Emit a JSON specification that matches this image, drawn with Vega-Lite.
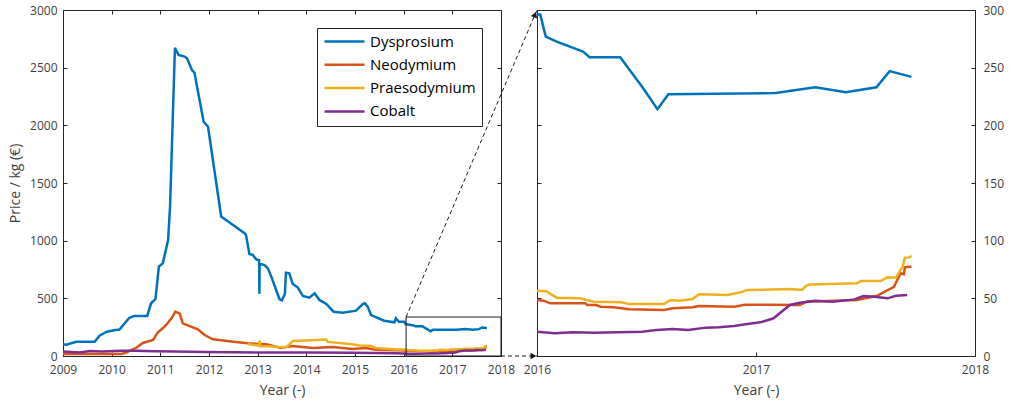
{
  "$schema": "https://vega.github.io/schema/vega-lite/v6.json",
  "padding": {"left": 8, "top": 4, "right": 2, "bottom": 2},
  "background": "white",
  "config": {
    "font": "Open Sans",
    "view": {"stroke": null},
    "axis": {
      "grid": false,
      "domainColor": "#262626",
      "domainWidth": 1,
      "tickColor": "#262626",
      "tickSize": -4,
      "tickWidth": 1,
      "labelFont": "Open Sans",
      "labelFontSize": 12,
      "labelColor": "#404040",
      "labelFlush": false,
      "labelOverlap": false,
      "titleFont": "Open Sans",
      "titleFontSize": 14,
      "titleFontWeight": "normal",
      "titleColor": "#404040"
    }
  },
  "datasets": {
    "prices": [
      {"m": "Dysprosium", "t": 2009.0, "p": 101},
      {"m": "Dysprosium", "t": 2009.07, "p": 97},
      {"m": "Dysprosium", "t": 2009.27, "p": 124},
      {"m": "Dysprosium", "t": 2009.65, "p": 124},
      {"m": "Dysprosium", "t": 2009.75, "p": 176},
      {"m": "Dysprosium", "t": 2009.9, "p": 211},
      {"m": "Dysprosium", "t": 2010.08, "p": 225},
      {"m": "Dysprosium", "t": 2010.16, "p": 229},
      {"m": "Dysprosium", "t": 2010.23, "p": 265},
      {"m": "Dysprosium", "t": 2010.36, "p": 330},
      {"m": "Dysprosium", "t": 2010.46, "p": 347},
      {"m": "Dysprosium", "t": 2010.73, "p": 347},
      {"m": "Dysprosium", "t": 2010.81, "p": 457},
      {"m": "Dysprosium", "t": 2010.9, "p": 494},
      {"m": "Dysprosium", "t": 2010.97, "p": 775},
      {"m": "Dysprosium", "t": 2011.05, "p": 803},
      {"m": "Dysprosium", "t": 2011.16, "p": 1006},
      {"m": "Dysprosium", "t": 2011.2, "p": 1300},
      {"m": "Dysprosium", "t": 2011.3, "p": 2673},
      {"m": "Dysprosium", "t": 2011.375, "p": 2610},
      {"m": "Dysprosium", "t": 2011.5, "p": 2596},
      {"m": "Dysprosium", "t": 2011.55, "p": 2580},
      {"m": "Dysprosium", "t": 2011.65, "p": 2480},
      {"m": "Dysprosium", "t": 2011.7, "p": 2457},
      {"m": "Dysprosium", "t": 2011.89, "p": 2031},
      {"m": "Dysprosium", "t": 2011.98, "p": 1988},
      {"m": "Dysprosium", "t": 2012.25, "p": 1210},
      {"m": "Dysprosium", "t": 2012.73, "p": 1064},
      {"m": "Dysprosium", "t": 2012.76, "p": 1050},
      {"m": "Dysprosium", "t": 2012.83, "p": 884},
      {"m": "Dysprosium", "t": 2012.9, "p": 876},
      {"m": "Dysprosium", "t": 2012.97, "p": 838},
      {"m": "Dysprosium", "t": 2013.03, "p": 830},
      {"m": "Dysprosium", "t": 2013.035, "p": 540},
      {"m": "Dysprosium", "t": 2013.04, "p": 800},
      {"m": "Dysprosium", "t": 2013.14, "p": 789},
      {"m": "Dysprosium", "t": 2013.21, "p": 760},
      {"m": "Dysprosium", "t": 2013.28, "p": 688},
      {"m": "Dysprosium", "t": 2013.38, "p": 572},
      {"m": "Dysprosium", "t": 2013.45, "p": 492},
      {"m": "Dysprosium", "t": 2013.5, "p": 482},
      {"m": "Dysprosium", "t": 2013.56, "p": 540},
      {"m": "Dysprosium", "t": 2013.58, "p": 722},
      {"m": "Dysprosium", "t": 2013.65, "p": 717},
      {"m": "Dysprosium", "t": 2013.72, "p": 624},
      {"m": "Dysprosium", "t": 2013.82, "p": 596},
      {"m": "Dysprosium", "t": 2013.93, "p": 520},
      {"m": "Dysprosium", "t": 2014.06, "p": 506},
      {"m": "Dysprosium", "t": 2014.17, "p": 544},
      {"m": "Dysprosium", "t": 2014.27, "p": 486},
      {"m": "Dysprosium", "t": 2014.41, "p": 451},
      {"m": "Dysprosium", "t": 2014.56, "p": 384},
      {"m": "Dysprosium", "t": 2014.75, "p": 376},
      {"m": "Dysprosium", "t": 2015.02, "p": 393},
      {"m": "Dysprosium", "t": 2015.16, "p": 451},
      {"m": "Dysprosium", "t": 2015.2, "p": 457},
      {"m": "Dysprosium", "t": 2015.26, "p": 428},
      {"m": "Dysprosium", "t": 2015.33, "p": 355},
      {"m": "Dysprosium", "t": 2015.6, "p": 306},
      {"m": "Dysprosium", "t": 2015.81, "p": 292},
      {"m": "Dysprosium", "t": 2015.84, "p": 327},
      {"m": "Dysprosium", "t": 2015.9, "p": 297},
      {"m": "Dysprosium", "t": 2016.0, "p": 296},
      {"m": "Dysprosium", "t": 2016.015, "p": 296},
      {"m": "Dysprosium", "t": 2016.04, "p": 277},
      {"m": "Dysprosium", "t": 2016.09, "p": 272.5},
      {"m": "Dysprosium", "t": 2016.21, "p": 264},
      {"m": "Dysprosium", "t": 2016.24, "p": 259},
      {"m": "Dysprosium", "t": 2016.38, "p": 259},
      {"m": "Dysprosium", "t": 2016.48, "p": 233.5},
      {"m": "Dysprosium", "t": 2016.55, "p": 214},
      {"m": "Dysprosium", "t": 2016.6, "p": 227},
      {"m": "Dysprosium", "t": 2017.09, "p": 228},
      {"m": "Dysprosium", "t": 2017.27, "p": 233},
      {"m": "Dysprosium", "t": 2017.41, "p": 228.6},
      {"m": "Dysprosium", "t": 2017.55, "p": 233},
      {"m": "Dysprosium", "t": 2017.61, "p": 247},
      {"m": "Dysprosium", "t": 2017.71, "p": 242},

      {"m": "Neodymium", "t": 2009.0, "p": 17},
      {"m": "Neodymium", "t": 2010.2, "p": 17},
      {"m": "Neodymium", "t": 2010.3, "p": 29},
      {"m": "Neodymium", "t": 2010.4, "p": 52},
      {"m": "Neodymium", "t": 2010.5, "p": 70},
      {"m": "Neodymium", "t": 2010.64, "p": 113},
      {"m": "Neodymium", "t": 2010.85, "p": 139},
      {"m": "Neodymium", "t": 2010.95, "p": 205},
      {"m": "Neodymium", "t": 2011.05, "p": 240},
      {"m": "Neodymium", "t": 2011.12, "p": 269},
      {"m": "Neodymium", "t": 2011.23, "p": 327},
      {"m": "Neodymium", "t": 2011.31, "p": 385},
      {"m": "Neodymium", "t": 2011.4, "p": 368},
      {"m": "Neodymium", "t": 2011.46, "p": 283},
      {"m": "Neodymium", "t": 2011.77, "p": 231},
      {"m": "Neodymium", "t": 2011.91, "p": 182},
      {"m": "Neodymium", "t": 2012.08, "p": 145},
      {"m": "Neodymium", "t": 2012.5, "p": 124},
      {"m": "Neodymium", "t": 2012.8, "p": 110},
      {"m": "Neodymium", "t": 2013.18, "p": 101},
      {"m": "Neodymium", "t": 2013.48, "p": 69},
      {"m": "Neodymium", "t": 2013.55, "p": 75},
      {"m": "Neodymium", "t": 2013.72, "p": 87},
      {"m": "Neodymium", "t": 2014.13, "p": 69},
      {"m": "Neodymium", "t": 2014.54, "p": 78},
      {"m": "Neodymium", "t": 2014.95, "p": 61},
      {"m": "Neodymium", "t": 2015.22, "p": 69},
      {"m": "Neodymium", "t": 2015.43, "p": 55},
      {"m": "Neodymium", "t": 2015.86, "p": 49},
      {"m": "Neodymium", "t": 2016.0, "p": 48.6},
      {"m": "Neodymium", "t": 2016.03, "p": 48},
      {"m": "Neodymium", "t": 2016.06, "p": 45.7},
      {"m": "Neodymium", "t": 2016.22, "p": 45.7},
      {"m": "Neodymium", "t": 2016.23, "p": 44.2},
      {"m": "Neodymium", "t": 2016.27, "p": 44.2},
      {"m": "Neodymium", "t": 2016.29, "p": 42.8},
      {"m": "Neodymium", "t": 2016.35, "p": 42.2},
      {"m": "Neodymium", "t": 2016.42, "p": 40.5},
      {"m": "Neodymium", "t": 2016.58, "p": 39.9},
      {"m": "Neodymium", "t": 2016.62, "p": 41.3},
      {"m": "Neodymium", "t": 2016.71, "p": 42.2},
      {"m": "Neodymium", "t": 2016.74, "p": 43.4},
      {"m": "Neodymium", "t": 2016.9, "p": 42.8},
      {"m": "Neodymium", "t": 2016.95, "p": 44.5},
      {"m": "Neodymium", "t": 2017.2, "p": 44.2},
      {"m": "Neodymium", "t": 2017.23, "p": 47.1},
      {"m": "Neodymium", "t": 2017.46, "p": 48.6},
      {"m": "Neodymium", "t": 2017.55, "p": 52},
      {"m": "Neodymium", "t": 2017.63, "p": 60},
      {"m": "Neodymium", "t": 2017.66, "p": 71.7},
      {"m": "Neodymium", "t": 2017.675, "p": 71},
      {"m": "Neodymium", "t": 2017.68, "p": 76.9},
      {"m": "Neodymium", "t": 2017.71, "p": 77.5},

      {"m": "Praesodymium", "t": 2012.79, "p": 104},
      {"m": "Praesodymium", "t": 2013.0, "p": 92},
      {"m": "Praesodymium", "t": 2013.03, "p": 88},
      {"m": "Praesodymium", "t": 2013.04, "p": 133},
      {"m": "Praesodymium", "t": 2013.05, "p": 85},
      {"m": "Praesodymium", "t": 2013.21, "p": 85},
      {"m": "Praesodymium", "t": 2013.52, "p": 75},
      {"m": "Praesodymium", "t": 2013.6, "p": 80},
      {"m": "Praesodymium", "t": 2013.72, "p": 130},
      {"m": "Praesodymium", "t": 2014.1, "p": 137},
      {"m": "Praesodymium", "t": 2014.41, "p": 142},
      {"m": "Praesodymium", "t": 2014.44, "p": 122},
      {"m": "Praesodymium", "t": 2014.9, "p": 104},
      {"m": "Praesodymium", "t": 2015.09, "p": 92},
      {"m": "Praesodymium", "t": 2015.3, "p": 88},
      {"m": "Praesodymium", "t": 2015.43, "p": 69},
      {"m": "Praesodymium", "t": 2015.86, "p": 57},
      {"m": "Praesodymium", "t": 2016.0, "p": 56.4},
      {"m": "Praesodymium", "t": 2016.04, "p": 56.4},
      {"m": "Praesodymium", "t": 2016.09, "p": 50.6},
      {"m": "Praesodymium", "t": 2016.195, "p": 50},
      {"m": "Praesodymium", "t": 2016.26, "p": 47.1},
      {"m": "Praesodymium", "t": 2016.385, "p": 46.5},
      {"m": "Praesodymium", "t": 2016.42, "p": 45},
      {"m": "Praesodymium", "t": 2016.58, "p": 45},
      {"m": "Praesodymium", "t": 2016.61, "p": 48.6},
      {"m": "Praesodymium", "t": 2016.65, "p": 48},
      {"m": "Praesodymium", "t": 2016.71, "p": 49.4},
      {"m": "Praesodymium", "t": 2016.74, "p": 53.5},
      {"m": "Praesodymium", "t": 2016.87, "p": 52.9},
      {"m": "Praesodymium", "t": 2016.93, "p": 55.2},
      {"m": "Praesodymium", "t": 2016.96, "p": 57.2},
      {"m": "Praesodymium", "t": 2017.155, "p": 58},
      {"m": "Praesodymium", "t": 2017.21, "p": 57.2},
      {"m": "Praesodymium", "t": 2017.23, "p": 61},
      {"m": "Praesodymium", "t": 2017.25, "p": 62.1},
      {"m": "Praesodymium", "t": 2017.46, "p": 63},
      {"m": "Praesodymium", "t": 2017.48, "p": 65},
      {"m": "Praesodymium", "t": 2017.57, "p": 65},
      {"m": "Praesodymium", "t": 2017.6, "p": 68.2},
      {"m": "Praesodymium", "t": 2017.64, "p": 67.9},
      {"m": "Praesodymium", "t": 2017.66, "p": 74.6},
      {"m": "Praesodymium", "t": 2017.67, "p": 77.5},
      {"m": "Praesodymium", "t": 2017.68, "p": 85.3},
      {"m": "Praesodymium", "t": 2017.7, "p": 85.5},
      {"m": "Praesodymium", "t": 2017.71, "p": 87},

      {"m": "Cobalt", "t": 2009.0, "p": 38},
      {"m": "Cobalt", "t": 2009.35, "p": 30},
      {"m": "Cobalt", "t": 2009.55, "p": 44},
      {"m": "Cobalt", "t": 2009.8, "p": 40},
      {"m": "Cobalt", "t": 2010.2, "p": 46},
      {"m": "Cobalt", "t": 2010.5, "p": 45},
      {"m": "Cobalt", "t": 2010.88, "p": 42},
      {"m": "Cobalt", "t": 2011.3, "p": 38},
      {"m": "Cobalt", "t": 2011.91, "p": 35},
      {"m": "Cobalt", "t": 2012.5, "p": 32},
      {"m": "Cobalt", "t": 2013.24, "p": 30},
      {"m": "Cobalt", "t": 2014.0, "p": 30},
      {"m": "Cobalt", "t": 2015.0, "p": 28},
      {"m": "Cobalt", "t": 2015.86, "p": 23},
      {"m": "Cobalt", "t": 2016.0, "p": 21.1},
      {"m": "Cobalt", "t": 2016.08, "p": 19.7},
      {"m": "Cobalt", "t": 2016.165, "p": 20.5},
      {"m": "Cobalt", "t": 2016.26, "p": 20.2},
      {"m": "Cobalt", "t": 2016.48, "p": 21.1},
      {"m": "Cobalt", "t": 2016.545, "p": 22.5},
      {"m": "Cobalt", "t": 2016.62, "p": 23.4},
      {"m": "Cobalt", "t": 2016.69, "p": 22.5},
      {"m": "Cobalt", "t": 2016.77, "p": 24.6},
      {"m": "Cobalt", "t": 2016.83, "p": 24.9},
      {"m": "Cobalt", "t": 2016.9, "p": 26},
      {"m": "Cobalt", "t": 2016.96, "p": 27.7},
      {"m": "Cobalt", "t": 2017.02, "p": 29.2},
      {"m": "Cobalt", "t": 2017.08, "p": 32.7},
      {"m": "Cobalt", "t": 2017.155, "p": 44.2},
      {"m": "Cobalt", "t": 2017.2, "p": 46.2},
      {"m": "Cobalt", "t": 2017.27, "p": 48},
      {"m": "Cobalt", "t": 2017.35, "p": 47.1},
      {"m": "Cobalt", "t": 2017.45, "p": 49.1},
      {"m": "Cobalt", "t": 2017.49, "p": 52},
      {"m": "Cobalt", "t": 2017.54, "p": 51.4},
      {"m": "Cobalt", "t": 2017.6, "p": 50},
      {"m": "Cobalt", "t": 2017.64, "p": 52.3},
      {"m": "Cobalt", "t": 2017.69, "p": 52.9}
    ],
    "zoombox": [{"x1": 2016.05, "x2": 2018, "y1": 0, "y2": 338}],
    "connectors": [
      {"xa": 2016.05, "ya": 338, "xb": 2018.74, "yb": 3000},
      {"xa": 2018, "ya": 0, "xb": 2018.74, "yb": 0}
    ],
    "arrows": [
      {"ax": 2015.991, "ay": 296, "ang": 23},
      {"ax": 2015.984, "ay": 0, "ang": 90}
    ]
  },
  "spacing": 36,
  "bounds": "flush",
  "resolve": {"legend": {"color": "independent"}},
  "hconcat": [
    {
      "width": 438,
      "height": 346,
      "layer": [
        {
          "data": {"name": "prices"},
          "mark": {"type": "line", "strokeWidth": 2.5, "clip": true},
          "encoding": {
            "x": {
              "field": "t", "type": "quantitative",
              "scale": {"domain": [2009, 2018], "nice": false, "zero": false},
              "axis": {"orient": "bottom", "values": [2009, 2010, 2011, 2012, 2013, 2014, 2015, 2016, 2017, 2018], "format": "d", "title": "Year (-)", "labelPadding": 12, "titlePadding": 8, "labelOverlap": false, "labelBound": false}
            },
            "y": {
              "field": "p", "type": "quantitative",
              "scale": {"domain": [0, 3000], "nice": false},
              "axis": {"orient": "left", "values": [0, 500, 1000, 1500, 2000, 2500, 3000], "format": "d", "title": "Price / kg (€)", "labelPadding": 10, "titlePadding": 7, "labelOverlap": false, "labelBound": false}
            },
            "color": {
              "field": "m", "type": "nominal",
              "scale": {"domain": ["Dysprosium", "Neodymium", "Praesodymium", "Cobalt"], "range": ["#0072BD", "#D95319", "#EDB120", "#7E2F8E"]},
              "legend": {
                "orient": "none", "legendX": 254, "legendY": 18, "title": null,
                "symbolType": "stroke", "symbolSize": 1600, "symbolStrokeWidth": 2.5,
                "clipHeight": 15, "rowPadding": 7.3, "labelOffset": 4,
                "labelFont": "Open Sans", "labelFontSize": 15, "labelColor": "#000000",
                "strokeColor": "#262626", "fillColor": "#ffffff", "padding": 6
              }
            }
          }
        },
        {
          "data": {"name": "zoombox"},
          "mark": {"type": "rect", "fillOpacity": 0, "fill": "white", "stroke": "#1a1a1a", "strokeWidth": 1},
          "encoding": {
            "x": {"field": "x1", "type": "quantitative", "axis": {"orient": "top", "values": [2009, 2010, 2011, 2012, 2013, 2014, 2015, 2016, 2017, 2018], "labels": false, "title": null}},
            "x2": {"field": "x2"},
            "y": {"field": "y1", "type": "quantitative", "axis": {"orient": "right", "values": [0, 500, 1000, 1500, 2000, 2500, 3000], "labels": false, "title": null}},
            "y2": {"field": "y2"}
          }
        },
        {
          "data": {"name": "connectors"},
          "mark": {"type": "rule", "strokeDash": [4, 3], "color": "#1a1a1a", "strokeWidth": 1},
          "encoding": {
            "x": {"field": "xa", "type": "quantitative", "axis": null},
            "y": {"field": "ya", "type": "quantitative", "axis": null},
            "x2": {"field": "xb"},
            "y2": {"field": "yb"}
          }
        }
      ],
      "resolve": {"axis": {"x": "independent", "y": "independent"}}
    },
    {
      "width": 438,
      "height": 346,
      "layer": [
        {
          "data": {"name": "prices"},
          "transform": [{"filter": "datum.t >= 2016"}],
          "mark": {"type": "line", "strokeWidth": 2.5, "clip": true},
          "encoding": {
            "x": {
              "field": "t", "type": "quantitative",
              "scale": {"domain": [2016, 2018], "nice": false, "zero": false},
              "axis": {"orient": "bottom", "tickCount": 2, "format": "d", "title": "Year (-)", "labelPadding": 12, "titlePadding": 8, "labelOverlap": false, "labelBound": false}
            },
            "y": {
              "field": "p", "type": "quantitative",
              "scale": {"domain": [0, 300], "nice": false},
              "axis": {"orient": "right", "values": [0, 50, 100, 150, 200, 250, 300], "format": "d", "title": null, "labelPadding": 12, "labelOverlap": false, "labelBound": false}
            },
            "color": {
              "field": "m", "type": "nominal",
              "scale": {"domain": ["Dysprosium", "Neodymium", "Praesodymium", "Cobalt"], "range": ["#0072BD", "#D95319", "#EDB120", "#7E2F8E"]},
              "legend": null
            }
          }
        },
        {
          "data": {"name": "arrows"},
          "mark": {"type": "point", "shape": "triangle-up", "filled": true, "color": "#1a1a1a", "size": 45, "opacity": 1},
          "encoding": {
            "x": {"field": "ax", "type": "quantitative", "axis": {"orient": "top", "tickCount": 2, "labels": false, "title": null}},
            "y": {"field": "ay", "type": "quantitative", "axis": {"orient": "left", "values": [0, 50, 100, 150, 200, 250, 300], "labels": false, "title": null}},
            "angle": {"field": "ang", "type": "quantitative", "scale": null}
          }
        }
      ],
      "resolve": {"axis": {"x": "independent", "y": "independent"}}
    }
  ]
}
